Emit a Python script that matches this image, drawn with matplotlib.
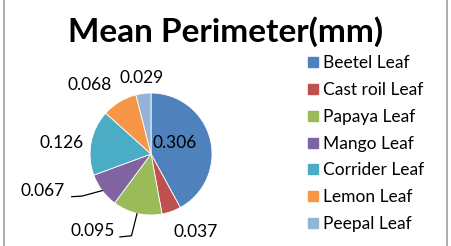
import matplotlib.pyplot as plt
from matplotlib.lines import Line2D

leaves = ['Beetel Leaf', 'Cast roil Leaf', 'Papaya Leaf', 'Mango Leaf',
          'Corrider Leaf', 'Lemon Leaf', 'Peepal Leaf']
perimeter = [0.306, 0.037, 0.095, 0.067, 0.126, 0.068, 0.029]
colors = ['#4F81BD', '#C0504D', '#9BBB59', '#8064A2', '#4BACC6', '#F79646', '#95B3D7']

# where each value label sits, in pie radii from the centre
label_pos = [(0.39, 0.18), (0.73, -1.28), (-0.96, -1.27), (-1.78, -0.60),
             (-1.47, 0.18), (-1.01, 1.13), (-0.16, 1.25)]
# leader lines for the two labels that are pulled away
leaders = {2: ([-0.23, -0.32, -0.51], [-0.98, -1.34, -1.36]),
           3: ([-0.80, -1.13, -1.30], [-0.60, -0.69, -0.70])}

plt.rcParams['font.family'] = ['Lato', 'DejaVu Sans']

fig = plt.figure(figsize=(4.51, 2.46), dpi=100)
ax = fig.add_axes([0.1996, 0.126, 0.2705, 0.496])
wedges, _ = ax.pie(perimeter, colors=colors, startangle=90, counterclock=False,
                   radius=1.0, wedgeprops=dict(linewidth=0.6, edgecolor='white'))
ax.set_xlim(-1, 1)
ax.set_ylim(-1, 1)
ax.set_aspect('equal')
ax.axis('off')

for i, v in enumerate(perimeter):
    x, y = label_pos[i]
    ax.text(x, y, '%.3f' % v, ha='center', va='center', fontsize=12.5, clip_on=False)
    if i in leaders:
        ax.plot(leaders[i][0], leaders[i][1], color='black', lw=0.9, clip_on=False)

fig.text(0.5, 0.87, 'Mean Perimeter(mm)', ha='center', va='center',
         fontsize=24, fontweight='bold')

handles = [Line2D([], [], marker='s', linestyle='none', markersize=7.5,
                  markerfacecolor=c, markeredgecolor=c) for c in colors]
fig.legend(handles, leaves, loc='upper left', bbox_to_anchor=(0.682, 0.775),
           frameon=False, fontsize=12.5, handlelength=0.6, handletextpad=0.3,
           labelspacing=0.62, borderaxespad=0, borderpad=0)

fig.add_artist(Line2D([0.009, 0.009], [0, 1], color='#A0A0A0', lw=1.2))
fig.add_artist(Line2D([0.991, 0.991], [0, 1], color='#A0A0A0', lw=1.2))

fig.savefig('out.png', dpi=100)
